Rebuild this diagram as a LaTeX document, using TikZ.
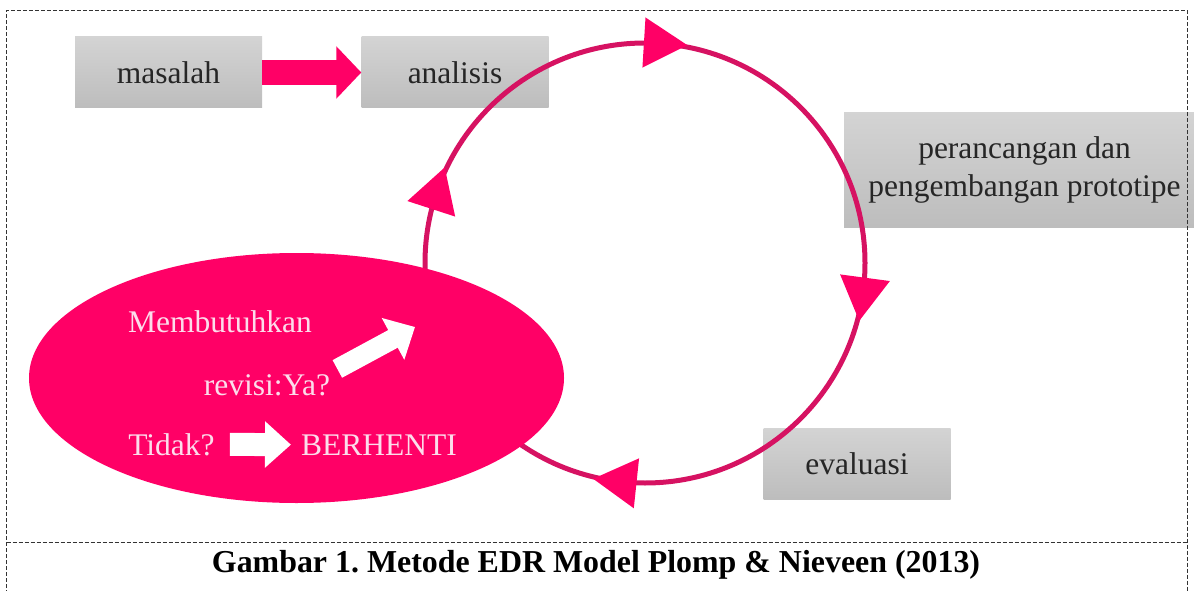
\documentclass[tikz,border=0pt]{standalone}
\usepackage{fontspec}
\setmainfont{Liberation Serif}
\usetikzlibrary{arrows.meta,shapes.geometric,calc}

\definecolor{edrpink}{RGB}{255,0,102}
\definecolor{edrline}{RGB}{214,18,98}
\definecolor{edrtext}{RGB}{252,220,235}

\tikzset{
  stage/.style={top color=gray!34, bottom color=gray!52, text=black!85,
    minimum width=187pt, minimum height=71pt, inner sep=0pt},
  ovaltext/.style={text=edrtext, inner sep=0pt, anchor=base},
  frame/.style={black!80, line width=0.9pt, dash pattern=on 4pt off 2pt}
}

\begin{document}
\frenchspacing
\begin{tikzpicture}[x=1pt,y=1pt,font=\fontsize{31.5pt}{38pt}\selectfont]
    \def\r{220}
    \useasboundingbox (0,0) rectangle (1194,-591);
    % Draw the stages
    \node[stage] (masalah) at (168.5,-72.5) {masalah};
    \node[stage] (analisis) at (455,-72.5) {analisis};
    \node[stage, minimum width=361pt, minimum height=114pt, align=center]
      (rancang) at (1024.5,-170) {perancangan dan\\pengembangan prototipe};
    \node[stage] (evaluasi) at (857,-463.5) {evaluasi};
    \draw[edrpink, line width=25pt, -{Triangle[length=25pt,width=51pt]}]
      (masalah.east) -- (analisis.west);
    % Draw the cycle
    \coordinate (c) at (645,-263);
    \draw[edrline, line width=5pt] (c) circle (\r);
    \node[ellipse, fill=edrpink, inner sep=0pt, minimum width=535pt,
      minimum height=250pt] (oval) at (296.5,-378) {};
    \foreach \a in {86.5,-7.6,-96,162} {
      \node[regular polygon, regular polygon sides=3, fill=edrpink,
        inner sep=0pt, minimum size=58pt, rotate=\a-180]
        at ($ (c)+(\a:\r) $) {};
    }
    % Text inside the oval
    \node[ovaltext] (butuh) at (220,-332) {Membutuhkan};
    \node[ovaltext] (revisi) at (267,-395) {revisi:Ya?};
    \node[ovaltext] (tidak) at (171.5,-455) {Tidak?};
    \node[ovaltext] (stop) at (379,-455) {BERHENTI};
    \coordinate (ya) at (415,-327);
    \draw[white, line width=20pt, -{Triangle[length=25pt,width=46pt]}]
      ([shift={(7,5)}]revisi.north east) -- (ya);
    \draw[white, line width=23pt, -{Triangle[length=26pt,width=45pt]},
      shorten <=15pt, shorten >=10pt] (tidak.east) -- (stop.west);
    % Frame and caption
    \draw[frame] (6.5,-600) -- (6.5,-10.5) -- (1187,-10.5) -- (1187,-600);
    \draw[frame] (6.5,-542) -- (1187,-542);
    \node[anchor=base, font=\bfseries\fontsize{31.9pt}{38pt}\selectfont]
      (caption) at (596,-572) {Gambar 1. Metode EDR Model Plomp \& Nieveen (2013)};
\end{tikzpicture}
\end{document}
